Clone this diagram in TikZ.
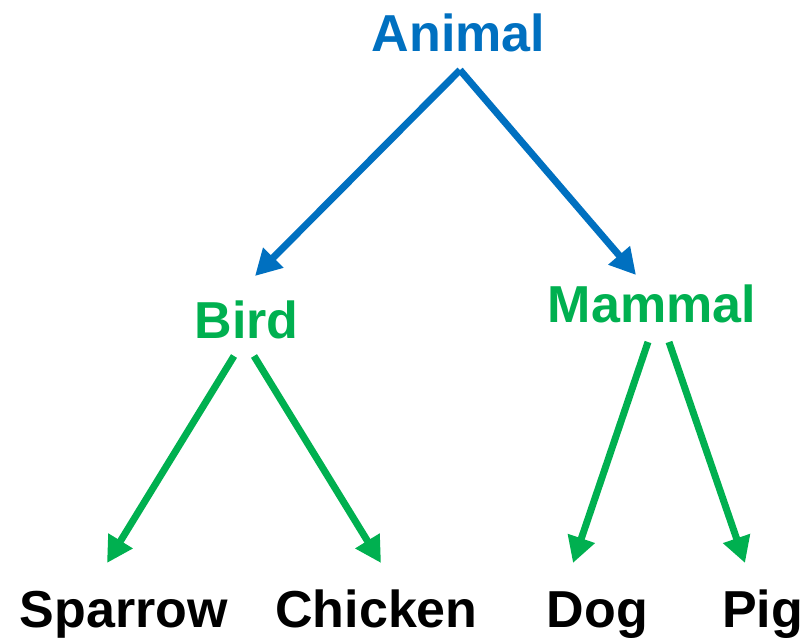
\documentclass[tikz,border=0pt]{standalone}
\usepackage{fontspec}
\setmainfont{Liberation Sans}
\usetikzlibrary{arrows.meta}
\definecolor{rootblue}{HTML}{0070C0}
\definecolor{classgreen}{HTML}{00B050}
\tikzset{
  label/.style={inner sep=0pt, anchor=base, font=\fontsize{52}{60}\selectfont\bfseries},
  link/.style={line width=7pt, -{Triangle[length=26pt,width=27pt]}},
}
\begin{document}
\begin{tikzpicture}[x=1pt,y=-1pt]
\useasboundingbox (0,0) rectangle (806,641);
% labels
\node[label, text=rootblue]   (animal)  at (458.5,51)  {Animal};
\node[label, text=classgreen] (bird)    at (246.5,338) {Bird};
\node[label, text=classgreen] (mammal)  at (652,322)   {Mammal};
\node[label]                  (sparrow) at (124,627)   {Sparrow};
\node[label]                  (chicken) at (376.5,627) {Chicken};
\node[label]                  (dog)     at (597.5,627) {Dog};
\node[label]                  (pig)     at (762.5,627) {Pig};
% connector ends
\coordinate (animal-out) at (460,70);
\coordinate (bird-in)    at (255,276);
\coordinate (mammal-in)  at (636,275);
\coordinate (bird-outl)  at (234,356);
\coordinate (bird-outr)  at (254,356);
\coordinate (mammal-outl) at (648,342);
\coordinate (mammal-outr) at (669,342);
\coordinate (sparrow-in) at (107,563);
\coordinate (chicken-in) at (381,563);
\coordinate (dog-in)     at (573,563);
\coordinate (pig-in)     at (745,563);
% connectors
\draw[link, rootblue]   (animal-out) -- (bird-in);
\draw[link, rootblue]   (animal-out) -- (mammal-in);
\draw[link, classgreen] (bird-outl) -- (sparrow-in);
\draw[link, classgreen] (bird-outr) -- (chicken-in);
\draw[link, classgreen] (mammal-outl) -- (dog-in);
\draw[link, classgreen] (mammal-outr) -- (pig-in);
\end{tikzpicture}
\end{document}
